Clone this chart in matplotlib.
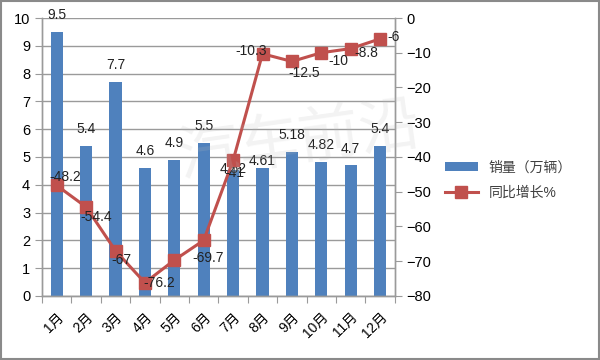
"""Monthly sales (10k units) as bars with year-on-year growth % as a line."""

import matplotlib.pyplot as plt
from matplotlib.patches import Rectangle

plt.rcParams["font.family"] = ["Liberation Sans", "Noto Sans CJK SC", "DejaVu Sans"]

MONTHS = ["1月", "2月", "3月", "4月", "5月", "6月",
          "7月", "8月", "9月", "10月", "11月", "12月"]
SALES = [9.5, 5.4, 7.7, 4.6, 4.9, 5.5, 4.52, 4.61, 5.18, 4.82, 4.7, 5.4]
SALES_LABELS = ["9.5", "5.4", "7.7", "4.6", "4.9", "5.5",
                "4.52", "4.61", "5.18", "4.82", "4.7", "5.4"]
GROWTH = [-48.2, -54.4, -67, -76.2, -69.7, -64, -41, -10.3, -12.5, -10, -8.8, -6]
GROWTH_LABELS = ["-48.2", "-54.4", "-67", "-76.2", "", "-69.7",
                 "-41", "-10.3", "-12.5", "-10", "-8.8", "-6"]

# label offsets (points) relative to each line marker, as placed in the source chart
GROWTH_OFFSETS = [(6, 6), (7, -7), (4, -7), (10, 0), (0, 0), (3, -13),
                  (1, -9), (-8, 2), (9, -8), (12, -6), (11, -3), (10, 1)]
# the source chart squeezes the July/August bar labels down onto the bars
SALES_OFFSETS = [7, 7, 7, 7, 7, 7, -4, 0, 7, 7, 7, 7]

BAR_COLOR = "#4F81BD"
LINE_COLOR = "#C0504D"
GRID = "#9a9a9a"

fig = plt.figure(figsize=(6, 3.6), dpi=100)
ax = fig.add_axes([0.07, 0.178, 0.588, 0.772])
ax2 = ax.twinx()

x = list(range(len(MONTHS)))
ax.bar(x, SALES, width=0.42, color=BAR_COLOR, zorder=2, label="销量（万辆）")
for xi, v, s, dy in zip(x, SALES, SALES_LABELS, SALES_OFFSETS):
    ax.annotate(s, (xi, v), xytext=(0, dy), textcoords="offset points",
                ha="center", va="bottom", fontsize=10, color="#222222", zorder=5)

ax2.plot(x, GROWTH, color=LINE_COLOR, linewidth=2.2, marker="s", markersize=9,
         label="同比增长%", zorder=3)
for xi, v, s, (dx, dy) in zip(x, GROWTH, GROWTH_LABELS, GROWTH_OFFSETS):
    if s:
        ax2.annotate(s, (xi, v), xytext=(dx, dy), textcoords="offset points",
                     ha="center", va="center", fontsize=10, color="#222222")

ax.set_xlim(-0.5, len(MONTHS) - 0.5)
ax.set_ylim(0, 10)
ax.set_yticks(range(0, 11))
ax2.set_ylim(-80, 0)
ax2.set_yticks(range(-80, 1, 10))

ax.yaxis.grid(True, color=GRID, linewidth=1.0)
ax.set_axisbelow(True)

# category boundaries as major ticks, month names on minor ticks at centres
ax.set_xticks([i - 0.5 for i in range(len(MONTHS) + 1)])
ax.set_xticklabels([])
ax.set_xticks(x, minor=True)
ax.set_xticklabels(MONTHS, minor=True, rotation=45, ha="right", va="top",
                   rotation_mode="anchor", fontsize=10)
ax.tick_params(axis="x", which="major", length=5, color=GRID, direction="out")
ax.tick_params(axis="x", which="minor", length=0, pad=10)
ax.tick_params(axis="y", length=5, color=GRID, labelsize=10.5)
ax2.tick_params(axis="y", length=5, color=GRID, labelsize=10.5)

for a in (ax, ax2):
    a.spines["top"].set_visible(False)
    for side in ("left", "right", "bottom"):
        a.spines[side].set_color(GRID)
        a.spines[side].set_linewidth(1.0)

# faint watermark
fig.text(0.5, 0.6, "汽车前沿", fontsize=44, color="#bbbbbb", alpha=0.18,
         ha="center", va="center", rotation=8, zorder=10)

h1, l1 = ax.get_legend_handles_labels()
h2, l2 = ax2.get_legend_handles_labels()
leg = fig.legend(h1 + h2, l1 + l2, loc="center left", bbox_to_anchor=(0.72, 0.50),
                 frameon=False, fontsize=10, handlelength=2.4, labelspacing=0.8)
for t in leg.get_texts():
    t.set_color("#404040")

fig.patches.append(Rectangle((0.002, 0.003), 0.996, 0.994, transform=fig.transFigure,
                             fill=False, edgecolor="#8a8a8a", linewidth=1.5))

fig.savefig("out.png", dpi=100)
